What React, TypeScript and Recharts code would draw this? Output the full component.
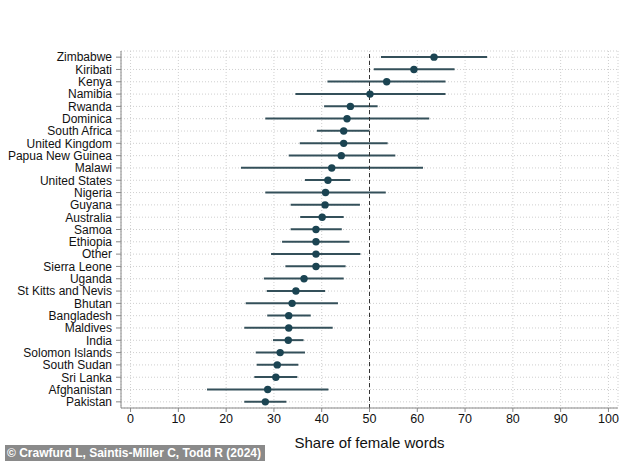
import {
  Bar,
  CartesianGrid,
  ComposedChart,
  Line,
  ReferenceLine,
  XAxis,
  YAxis,
} from 'recharts'

const COUNTRIES = [
  'Zimbabwe', 'Kiribati', 'Kenya', 'Namibia', 'Rwanda', 'Dominica', 'South Africa',
  'United Kingdom', 'Papua New Guinea', 'Malawi', 'United States', 'Nigeria', 'Guyana',
  'Australia', 'Samoa', 'Ethiopia', 'Other', 'Sierra Leone', 'Uganda', 'St Kitts and Nevis',
  'Bhutan', 'Bangladesh', 'Maldives', 'India', 'Solomon Islands', 'South Sudan', 'Sri Lanka',
  'Afghanistan', 'Pakistan',
]

const MEANS = [
  63.5, 59.3, 53.6, 50.1, 46.0, 45.3, 44.6, 44.6, 44.1, 42.1, 41.3, 40.8, 40.7, 40.1, 38.8,
  38.8, 38.8, 38.8, 36.3, 34.6, 33.8, 33.1, 33.1, 33.0, 31.3, 30.7, 30.4, 28.7, 28.2,
]

const LOWS = [
  52.4, 50.9, 41.2, 34.5, 40.5, 28.2, 39.0, 35.4, 33.1, 23.1, 36.5, 28.2, 33.5, 35.5, 33.5,
  31.7, 29.4, 32.4, 27.9, 28.5, 24.1, 28.6, 23.8, 29.8, 26.2, 26.4, 25.9, 16.0, 23.8,
]

const HIGHS = [
  74.6, 67.8, 65.9, 65.9, 51.7, 62.5, 50.0, 53.8, 55.4, 61.2, 46.0, 53.4, 48.0, 44.6, 44.2,
  45.8, 48.1, 45.0, 44.6, 40.7, 43.4, 37.7, 42.3, 36.2, 36.5, 35.1, 34.9, 41.4, 32.6,
]

const X_TICKS = [0, 10, 20, 30, 40, 50, 60, 70, 80, 90, 100]

const FONT = '"Liberation Sans", Arial, sans-serif'
const DOT = '#1b4452'
const BAR = '#34505a'

const data = COUNTRIES.map((country, i) => ({
  country,
  mean: MEANS[i],
  range: [LOWS[i], HIGHS[i]],
}))

// draws the CI as a thin horizontal line through the band centre
const CiLine = (props: any) => {
  const { x, y, width, height } = props
  const cy = y + height / 2
  return <line x1={x} x2={x + width} y1={cy} y2={cy} stroke={BAR} strokeWidth={2} />
}

// plain text tick so long names don't wrap
const CountryTick = (props: any) => {
  const { x, y, payload } = props
  return (
    <text x={x} y={y} dy="0.36em" textAnchor="end" fontSize={12} fill="#111" fontFamily={FONT}>
      {payload.value}
    </text>
  )
}

export default function App() {
  return (
    <div style={{ position: 'absolute', left: 0, top: 0, width: 631, height: 461, background: '#fff' }}>
      <ComposedChart
        width={631}
        height={461}
        data={data}
        layout="vertical"
        margin={{ top: 51, right: 13, bottom: 0, left: 0 }}
        style={{ fontFamily: FONT }}
      >
        <CartesianGrid stroke="#cfcfcf" strokeDasharray="1 2" />
        <XAxis
          type="number"
          domain={[-2, 102]}
          ticks={X_TICKS}
          height={53}
          tickSize={4}
          tickMargin={2}
          stroke="#888"
          tick={{ fontSize: 12.5, fill: '#111' }}
          label={{ value: 'Share of female words', position: 'insideBottom', offset: 13, fontSize: 15, fill: '#111' }}
        />
        <YAxis
          type="category"
          dataKey="country"
          width={121}
          tickSize={5}
          tickMargin={4}
          interval={0}
          stroke="#888"
          tick={<CountryTick />}
        />
        <ReferenceLine x={50} stroke="#333" strokeDasharray="4 3" />
        <Bar dataKey="range" barSize={2} shape={CiLine} isAnimationActive={false} />
        <Line
          dataKey="mean"
          stroke="none"
          dot={{ r: 3.7, fill: DOT, stroke: DOT, strokeWidth: 0 }}
          activeDot={false}
          isAnimationActive={false}
        />
      </ComposedChart>
      <div
        style={{
          position: 'absolute',
          left: 5,
          top: 445,
          width: 260,
          height: 16,
          background: '#8a8a8a',
          color: '#fff',
          fontFamily: FONT,
          fontWeight: 'bold',
          fontSize: 12,
          lineHeight: '16px',
          paddingLeft: 2,
          boxSizing: 'border-box',
          whiteSpace: 'nowrap',
          overflow: 'hidden',
        }}
      >
        © Crawfurd L, Saintis-Miller C, Todd R (2024)
      </div>
    </div>
  )
}
